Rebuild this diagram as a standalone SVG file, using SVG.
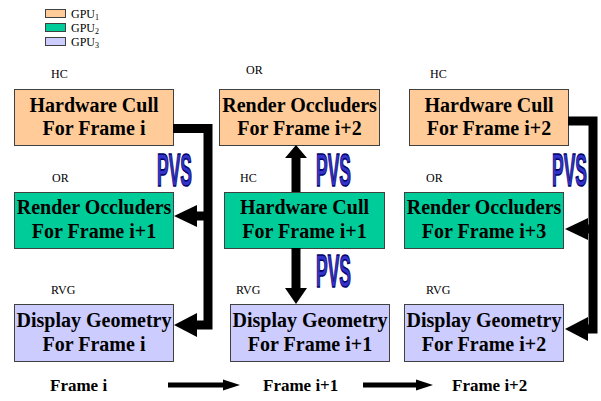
<svg xmlns="http://www.w3.org/2000/svg" width="601" height="401" viewBox="0 0 601 401">
<style>
.box{stroke:#404040;stroke-width:1}
.g1{fill:#FFCC99}.g2{fill:#00CC99}.g3{fill:#CCCCFF}
.bt{font-family:"Liberation Serif","Times New Roman",serif;font-weight:bold;font-size:20px;text-anchor:middle;fill:#000}
.sm{font-family:"Liberation Serif","Times New Roman",serif;font-size:12px;fill:#000}
.lg{font-family:"Liberation Serif","Times New Roman",serif;font-size:12px;fill:#000}
.pvs{font-family:"Liberation Sans",Arial,sans-serif;font-weight:bold;font-size:46px;fill:#3333CC;stroke:#000066;stroke-width:1.6}
.fr{font-family:"Liberation Serif","Times New Roman",serif;font-weight:bold;font-size:17px;fill:#000}
.ln{fill:none;stroke:#000;stroke-width:9;stroke-linejoin:miter}
</style>
<rect width="601" height="401" fill="#fff"/>
<g id="legend">
<rect class="box g1" x="45.5" y="9.5" width="20" height="8"/>
<rect class="box g2" x="45.5" y="23.5" width="20" height="8"/>
<rect class="box g3" x="45.5" y="37.5" width="20" height="8"/>
<text class="lg" x="71" y="17.5">GPU<tspan font-size="8" dy="2">1</tspan></text>
<text class="lg" x="71" y="31.5">GPU<tspan font-size="8" dy="2">2</tspan></text>
<text class="lg" x="71" y="45.5">GPU<tspan font-size="8" dy="2">3</tspan></text>
</g>
<g id="hc_i">
<text class="sm" x="51" y="78">HC</text>
<rect class="box g1" x="14.5" y="89.5" width="159" height="56"/>
<text class="bt" x="94" y="112">Hardware Cull</text>
<text class="bt" x="94" y="135">For Frame i</text>
</g>
<g id="or_i2">
<text class="sm" x="246" y="74">OR</text>
<rect class="box g1" x="219.5" y="89.5" width="160" height="56"/>
<text class="bt" x="299.5" y="112">Render Occluders</text>
<text class="bt" x="299.5" y="135">For Frame i+2</text>
</g>
<g id="hc_i2">
<text class="sm" x="430" y="78">HC</text>
<rect class="box g1" x="409.5" y="89.5" width="159" height="56"/>
<text class="bt" x="489" y="112">Hardware Cull</text>
<text class="bt" x="489" y="135">For Frame i+2</text>
</g>
<g id="or_i1">
<text class="sm" x="52" y="182">OR</text>
<rect class="box g2" x="14.5" y="192.5" width="159" height="56"/>
<text class="bt" x="94" y="214">Render Occluders</text>
<text class="bt" x="94" y="238">For Frame i+1</text>
</g>
<g id="hc_i1">
<text class="sm" x="240" y="182">HC</text>
<rect class="box g2" x="224.5" y="192.5" width="160" height="56"/>
<text class="bt" x="304.5" y="214">Hardware Cull</text>
<text class="bt" x="304.5" y="238">For Frame i+1</text>
</g>
<g id="or_i3">
<text class="sm" x="426" y="182">OR</text>
<rect class="box g2" x="404.5" y="192.5" width="159" height="56"/>
<text class="bt" x="484" y="214">Render Occluders</text>
<text class="bt" x="484" y="238">For Frame i+3</text>
</g>
<g id="dg_i">
<text class="sm" x="51" y="294">RVG</text>
<rect class="box g3" x="14.5" y="304.5" width="159" height="57"/>
<text class="bt" x="94" y="327">Display Geometry</text>
<text class="bt" x="94" y="351">For Frame i</text>
</g>
<g id="dg_i1">
<text class="sm" x="236" y="294">RVG</text>
<rect class="box g3" x="230.5" y="304.5" width="159" height="57"/>
<text class="bt" x="310" y="327">Display Geometry</text>
<text class="bt" x="310" y="351">For Frame i+1</text>
</g>
<g id="dg_i2">
<text class="sm" x="426" y="294">RVG</text>
<rect class="box g3" x="404.5" y="304.5" width="159" height="57"/>
<text class="bt" x="484" y="327">Display Geometry</text>
<text class="bt" x="484" y="351">For Frame i+2</text>
</g>
<g id="connectors">
<path class="ln" d="M173,128.5 H208 V325 H195"/>
<path class="ln" d="M208,216 H195"/>
<polygon points="174,325 197,313 197,337"/>
<polygon points="174,216 197,205 197,227"/>
<path class="ln" d="M568,121 H593 V329 H585"/>
<path class="ln" d="M593,229 H585"/>
<polygon points="565,329 588,317 588,341"/>
<polygon points="565,229 588,218 588,240"/>
<path class="ln" d="M296,192 V156"/>
<polygon points="296,145 307,158 285,158"/>
<path class="ln" d="M296,248 V290"/>
<polygon points="296,304 307,288 285,288"/>
<path d="M168,385 H224" stroke="#000" stroke-width="5"/>
<polygon points="223,379.5 240,385 223,390.5"/>
<path d="M363,385 H417" stroke="#000" stroke-width="5"/>
<polygon points="416,379.5 433,385 416,390.5"/>
</g>
<g id="pvs">
<text class="pvs" transform="translate(157,186) scale(0.38,1)">PVS</text>
<text class="pvs" transform="translate(316,186) scale(0.38,1)">PVS</text>
<text class="pvs" transform="translate(316,287) scale(0.38,1)">PVS</text>
<text class="pvs" transform="translate(552,186) scale(0.38,1)">PVS</text>
</g>
<g id="frames">
<text class="fr" x="50" y="391">Frame i</text>
<text class="fr" x="263" y="391">Frame i+1</text>
<text class="fr" x="452" y="391">Frame i+2</text>
</g>
</svg>
